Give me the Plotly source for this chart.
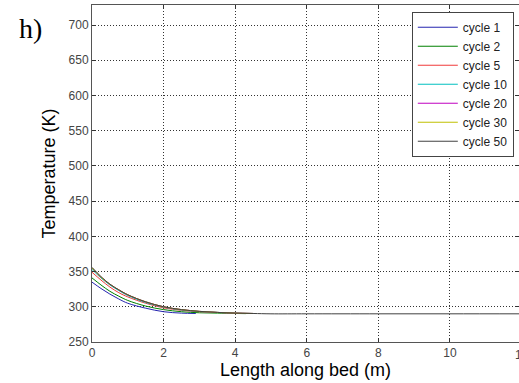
import plotly.graph_objects as go

# Data
x_pts = [0, 0.25, 0.5, 0.75, 1.0, 1.5, 2.0, 2.5, 3.0, 3.5, 4.0, 4.5]

names = ["cycle 1", "cycle 2", "cycle 5", "cycle 10", "cycle 20", "cycle 30", "cycle 50"]
colors = ["#2424b0", "#008000", "#f03a3a", "#00bfbf", "#bf00bf", "#bfbf00", "#404040"]

x_c1 = [0, 0.25, 0.5, 0.75, 1.0, 1.5, 2.0, 2.5, 2.9]
t_c1 = [335, 326, 318, 311, 305, 298, 293, 291, 290.5]

x_c2 = [0, 0.25, 0.5, 0.75, 1.0, 1.5, 2.0, 2.5, 3.0, 3.5, 4.0, 4.3]
t_c2 = [341, 331, 322, 315, 309, 301, 296, 293, 291.5, 291, 290.5, 290.3]

x_c5 = x_pts
t_c5 = [349, 338, 328, 320, 314, 305, 298.5, 295, 293, 292, 291, 290.5]

x_c10 = x_pts
t_c10 = [353, 341, 331, 323, 316, 306, 299.5, 295.5, 293.3, 292, 291, 290.5]

x_c20 = x_pts
t_c20 = [355, 342, 332, 324, 317, 307, 300, 296, 293.5, 292, 291, 290.5]

x_c30 = x_pts
t_c30 = [355, 342, 332, 324, 317, 307, 300, 296, 293.5, 292, 291, 290.5]

x_c50 = x_pts + [5, 6, 8, 10, 12]
t_c50 = [356, 343, 332, 324, 317, 307, 300, 296, 293.5, 292, 291, 290.5, 290, 290, 290, 290, 290]

series_x = [x_c1, x_c2, x_c5, x_c10, x_c20, x_c30, x_c50]
series_t = [t_c1, t_c2, t_c5, t_c10, t_c20, t_c30, t_c50]

x_ticks = [0, 2, 4, 6, 8, 10, 12]
y_ticks = [250, 300, 350, 400, 450, 500, 550, 600, 650, 700]

fig = go.Figure()
for n, c, xs, ts in zip(names, colors, series_x, series_t):
    fig.add_trace(go.Scatter(x=xs, y=ts, mode="lines", name=n,
                             line=dict(color=c, width=1, shape="spline")))

axis_common = dict(
    showline=True, linecolor="#555555", linewidth=1, mirror="ticks",
    ticks="inside", ticklen=4, tickcolor="#333333",
    showgrid=True, gridcolor="#333333", griddash="1px,2px", gridwidth=1,
    zeroline=False, automargin=False,
    tickfont=dict(family="Liberation Sans, Arial", size=12, color="#444444"),
)

fig.update_layout(
    width=519, height=383,
    margin=dict(l=92, r=0, t=5, b=41, autoexpand=False),
    paper_bgcolor="white", plot_bgcolor="white",
    showlegend=True,
    legend=dict(x=0.749, y=0.98, xanchor="left", yanchor="top",
                bgcolor="white", bordercolor="#444444", borderwidth=1,
                itemwidth=40,
                font=dict(family="Liberation Sans, Arial", size=12, color="#222222"),
                tracegroupgap=0),
    xaxis=dict(range=[0, 11.93], tickvals=x_ticks,
               title=dict(text="Length along bed (m)", standoff=2,
                          font=dict(family="Liberation Sans, Arial", size=18, color="black")),
               **axis_common),
    yaxis=dict(range=[250, 728.4], tickvals=y_ticks,
               title=dict(text="Temperature (K)", standoff=8,
                          font=dict(family="Liberation Sans, Arial", size=18, color="black")),
               **axis_common),
    annotations=[
        dict(text="h)", xref="paper", yref="paper", x=-0.143, y=0.93,
             xanchor="center", yanchor="middle", showarrow=False,
             font=dict(family="Liberation Serif, Times New Roman", size=28, color="black")),
        dict(text="12", xref="paper", yref="paper", x=1.007, y=0, yshift=-4,
             xanchor="center", yanchor="top", showarrow=False,
             font=dict(family="Liberation Sans, Arial", size=12, color="#444444")),
    ],
)

fig.write_html("out.html", config={"displayModeBar": False},
               post_script="document.body.style.margin='0';document.body.style.overflow='hidden';")
